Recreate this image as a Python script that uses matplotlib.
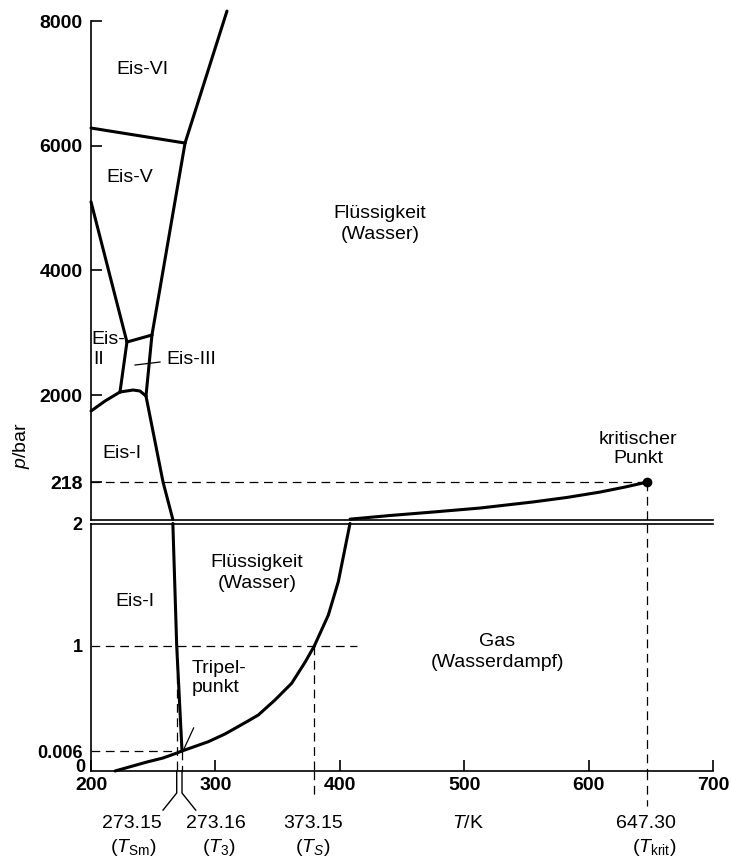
import numpy as np
import matplotlib
matplotlib.use("Agg")
import matplotlib.pyplot as plt
import matplotlib.transforms as mtransforms

plt.rcParams['font.family'] = ['Liberation Sans', 'DejaVu Sans']
plt.rcParams['mathtext.fontset'] = 'custom'
plt.rcParams['mathtext.rm'] = 'Liberation Sans'
plt.rcParams['mathtext.it'] = 'Liberation Sans:italic'
plt.rcParams['mathtext.bf'] = 'Liberation Sans:bold'

W, H = 731, 861

# ---- data (T in K, p in bar) ----
# lower part, 0..2 bar (schematic, stretched scale)
subl_T = [219.3, 245.0, 257.9, 269.1, 273.16]
subl_p = [0.0, 0.0027, 0.0039, 0.0054, 0.006]
vap_lo_T = [273.16, 294.3, 307.7, 325.2, 334.5, 347.9, 361.3, 372.0, 379.5,
            390.8, 398.8, 404.2, 408.2]
vap_lo_p = [0.006, 0.094, 0.167, 0.283, 0.347, 0.489, 0.647, 0.845, 1.0,
            1.253, 1.525, 1.798, 2.0]
melt_lo_T = [273.16, 268.9, 265.8]
melt_lo_p = [0.006, 1.0, 2.0]

# upper part, 2..8000 bar
melt1_T = [265.8, 257.9, 244.2]
melt1_p = [2, 218, 1979]
i_ii_T = [200.0, 211.3, 223.3]
i_ii_p = [1672, 1877, 2048]
i_iii_T = [223.3, 233.8, 239.4, 244.2]
i_iii_p = [2048, 2080, 2064, 1979]
ii_iii_T = [223.3, 228.9]
ii_iii_p = [2048, 2850]
iii_v_T = [228.9, 249.0]
iii_v_p = [2850, 2962]
iii_l_T = [244.2, 249.0]
iii_l_p = [1979, 2962]
ii_v_T = [228.9, 216.1, 200.0]
ii_v_p = [2850, 3845, 5100]
v_l_T = [249.0, 275.6]
v_l_p = [2962, 6042]
v_vi_T = [200.0, 275.6]
v_vi_p = [6283, 6042]
vi_l_T = [275.6, 309.3]
vi_l_p = [6042, 8160]
vap_hi_T = [408.2, 440.4, 474.9, 512.7, 555.3, 582.6, 609.2, 629.3, 647.3]
vap_hi_p = [4, 25, 45, 68, 103, 129, 160, 189, 218]

T_crit, p_crit = 647.3, 218
T_boil = 379.5
T_melt1 = 268.9
T_triple, p_triple = 273.16, 0.006

x_ticks = [200, 300, 400, 500, 600, 700]
lo_ticks = [0, 0.006, 1, 2]
lo_labels = ['', '0.006', '1', '2']
hi_ticks = [218, 2000, 4000, 6000, 8000]


def piecewise(xp, fp):
    xp = np.asarray(xp, float)
    fp = np.asarray(fp, float)

    def f(x):
        x = np.asarray(x, float)
        y = np.interp(x, xp, fp)
        y = np.where(x < xp[0], fp[0] + (x - xp[0]) * (fp[1] - fp[0]) / (xp[1] - xp[0]), y)
        y = np.where(x > xp[-1], fp[-1] + (x - xp[-1]) * (fp[-1] - fp[-2]) / (xp[-1] - xp[-2]), y)
        return y
    return f


# schematic pressure scales of the original drawing
lo_P, lo_S = [0, 0.006, 1, 2], [0, 20, 125, 247.5]
hi_P, hi_S = [2, 218, 2000, 8000], [0, 37.5, 124.5, 498.5]

fig = plt.figure(figsize=(W / 100, H / 100), dpi=100)


def box(l, t, r, b):
    return [l / W, 1 - b / H, (r - l) / W, (b - t) / H]


ax_lo = fig.add_axes(box(91, 523.5, 713, 771))
ax_hi = fig.add_axes(box(91, 21, 713, 519.5))

ax_lo.set_yscale('function', functions=(piecewise(lo_P, lo_S), piecewise(lo_S, lo_P)))
ax_hi.set_yscale('function', functions=(piecewise(hi_P, hi_S), piecewise(hi_S, hi_P)))
for ax in (ax_lo, ax_hi):
    ax.set_xlim(200, 700)
    ax.spines['right'].set_visible(False)
    for s in ax.spines.values():
        s.set_linewidth(1.2)
ax_lo.set_ylim(0, 2)
ax_hi.set_ylim(2, 8000)
ax_hi.spines['top'].set_visible(False)

ax_lo.set_xticks(x_ticks)
ax_lo.tick_params(axis='x', direction='in', length=8, width=1.2, labelsize=14, pad=4)
ax_lo.set_yticks(lo_ticks, lo_labels)
ax_lo.tick_params(axis='y', length=0, labelsize=13, pad=6)
ax_hi.set_xticks([])
ax_hi.set_yticks(hi_ticks, [str(t) for t in hi_ticks])
ax_hi.tick_params(axis='y', direction='in', length=8, width=1.2, labelsize=14, pad=6)
for lbl in ax_lo.get_xticklabels() + ax_lo.get_yticklabels() + ax_hi.get_yticklabels():
    lbl.set_fontweight('bold')

thick = dict(color='k', lw=2.2, solid_capstyle='round', solid_joinstyle='round', clip_on=False)
dash = dict(color='k', lw=0.9, dashes=(7, 4.5), clip_on=False)

# lower curves
ax_lo.plot(subl_T, subl_p, **thick)
ax_lo.plot(vap_lo_T, vap_lo_p, **thick)
ax_lo.plot(melt_lo_T, melt_lo_p, **thick)

# upper curves
for T, p in [(melt1_T, melt1_p), (i_ii_T, i_ii_p), (i_iii_T, i_iii_p),
             (ii_iii_T, ii_iii_p), (iii_v_T, iii_v_p), (iii_l_T, iii_l_p),
             (ii_v_T, ii_v_p), (v_l_T, v_l_p), (v_vi_T, v_vi_p),
             (vi_l_T, vi_l_p), (vap_hi_T, vap_hi_p)]:
    ax_hi.plot(T, p, **thick)
ax_hi.plot(T_crit, p_crit, 'o', color='k', ms=6, clip_on=False)

# guide lines
ax_hi.plot([200, T_crit], [p_crit, p_crit], **dash)
ax_hi.plot([T_crit, T_crit], [p_crit, 2], **dash)
ax_lo.plot([200, 413.8], [1, 1], **dash)
ax_lo.plot([200, T_triple], [p_triple, p_triple], **dash)
ax_lo.plot([T_melt1, T_melt1], [1, 0], **dash)
ax_lo.plot([T_triple, T_triple], [p_triple, 0], **dash)
ax_lo.plot([T_boil, T_boil], [1, 0], **dash)
ax_lo.plot([T_crit, T_crit], [2, 0], **dash)

# guide continuations below the axis
tr = mtransforms.blended_transform_factory(ax_lo.transData, ax_lo.transAxes)
ax_lo.plot([T_boil, T_boil], [0, -0.105], transform=tr, **dash)
ax_lo.plot([T_crit, T_crit], [0, -0.14], transform=tr, **dash)
ax_lo.plot([T_melt1, T_melt1, T_melt1 - 11], [0, -0.089, -0.158], transform=tr,
           color='k', lw=1.0, clip_on=False)
ax_lo.plot([T_triple, T_triple, T_triple + 11], [0, -0.089, -0.158], transform=tr,
           color='k', lw=1.0, clip_on=False)

# small leaders
ax_lo.plot([274.5, 282.5], [0.02, 0.224], color='k', lw=0.9)
ax_hi.plot([235.4, 255.5], [2481, 2529], color='k', lw=0.9)


def ftext(px, py, s, **kw):
    kw.setdefault('ha', 'center')
    kw.setdefault('va', 'center')
    kw.setdefault('fontsize', 14)
    fig.text(px / W, 1 - py / H, s, **kw)


# the "0" tick label sits a little higher than its tick in the original
ftext(85, 768, '0', ha='right', fontweight='bold', fontsize=13)

ftext(142, 69, 'Eis-VI')
ftext(130, 177, 'Eis-V')
ftext(380, 224, 'Flüssigkeit\n(Wasser)', linespacing=1.35)
ftext(91, 340, 'Eis-', ha='left')
ftext(99, 359, 'II')
ftext(191, 359, 'Eis-III')
ftext(122, 454, 'Eis-I')
ftext(638, 449, 'kritischer\nPunkt', linespacing=1.2)
ftext(135, 601, 'Eis-I')
ftext(257, 573, 'Flüssigkeit\n(Wasser)', linespacing=1.3)
ftext(497, 652, 'Gas\n(Wasserdampf)', linespacing=1.35)
ftext(192, 678, 'Tripel-\npunkt', ha='left', linespacing=1.2)

ftext(132, 824, '273.15')
ftext(133, 848, '($T_\\mathrm{Sm}$)')
ftext(216, 824, '273.16')
ftext(219, 848, '($T_3$)')
ftext(313, 824, '373.15')
ftext(313, 848, '($T_S$)')
ftext(468, 824, '$T$/K')
ftext(646, 824, '647.30')
ftext(654, 848, '($T_\\mathrm{krit}$)')
ftext(22, 446, '$p$/bar', rotation=90)

fig.savefig('out.png', dpi=100)
